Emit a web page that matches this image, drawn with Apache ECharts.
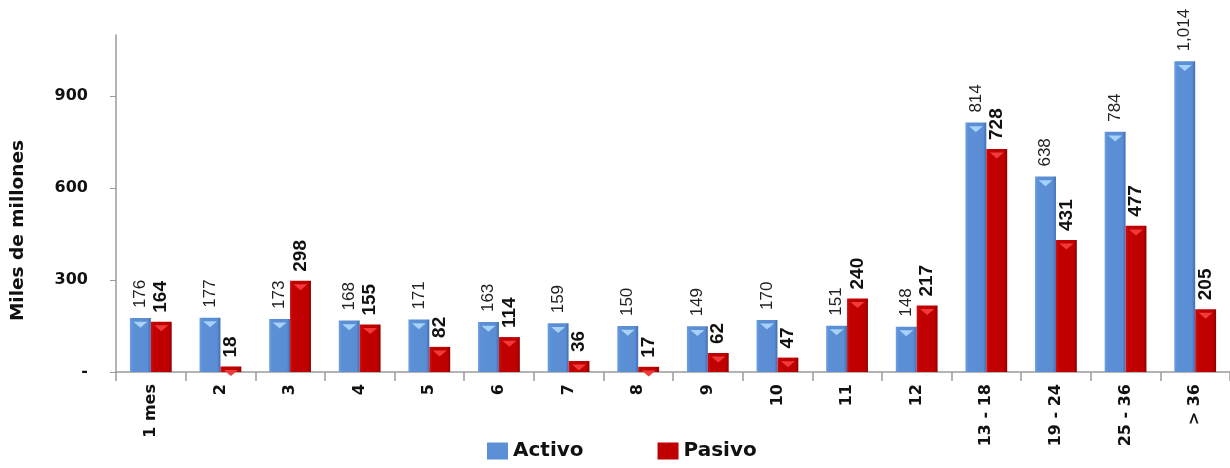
<!DOCTYPE html>
<html><head><meta charset="utf-8">
<script src="https://cdn.jsdelivr.net/npm/echarts@6/dist/echarts.min.js"></script>
<style>html,body{margin:0;padding:0;background:#fff}#c{width:1230px;height:468px}</style>
</head><body><div id="c"></div>
<script>
const categories = ['1 mes','2','3','4','5','6','7','8','9','10','11','12','13 - 18','19 - 24','25 - 36','> 36'];
const activo = [176,177,173,168,171,163,159,150,149,170,151,148,814,638,784,1014];
const pasivo = [164,18,298,155,82,114,36,17,62,47,240,217,728,431,477,205];
const yTicks = [0,300,600,900];

const fmt = v => v.toLocaleString('en-US');
const blueGrad = new echarts.graphic.LinearGradient(0,0,1,0,[
  {offset:0,color:'#6c9fe0'},{offset:0.15,color:'#5b8fd6'},{offset:0.85,color:'#5a8dd4'},{offset:1,color:'#3f6db2'}]);
const redGrad = new echarts.graphic.LinearGradient(0,0,1,0,[
  {offset:0,color:'#d01010'},{offset:0.15,color:'#c20000'},{offset:0.85,color:'#be0000'},{offset:1,color:'#8e0000'}]);

const font = 'DejaVu Sans';
const chart = echarts.init(document.getElementById('c'));
chart.setOption({
  animation:false,
  grid:{left:116,right:-6,top:35,bottom:96,containLabel:false},
  legend:{
    top:436,left:482,itemGap:74,itemWidth:21,itemHeight:17,
    textStyle:{fontFamily:font,fontWeight:'bold',fontSize:20,color:'#111'},
    data:[{name:'Activo',icon:'rect',itemStyle:{color:'#5b8fd6'}},{name:'Pasivo',icon:'rect',itemStyle:{color:'#c00000'}}]
  },
  xAxis:{
    type:'category',data:categories,
    axisLine:{lineStyle:{color:'#9a9a9a',width:1.5}},
    axisTick:{show:true,length:9,lineStyle:{color:'#9a9a9a',width:1.5}},
    axisLabel:{rotate:90,margin:12,fontFamily:font,fontWeight:'bold',fontSize:16,color:'#111'}
  },
  yAxis:{
    type:'value',min:0,max:1100,interval:300,
    splitLine:{show:false},
    axisLine:{show:true,lineStyle:{color:'#9a9a9a',width:1.5}},
    axisTick:{show:true,length:6,lineStyle:{color:'#9a9a9a'}},
    axisLabel:{margin:28,fontFamily:font,fontWeight:'bold',fontSize:16,color:'#111',showMaxLabel:false,
      formatter:v=> yTicks.includes(v) ? (v===0?'-':String(v)) : ''}
  },
  graphic:[{type:'text',left:9,top:140,rotation:Math.PI/2,
    style:{text:'Miles de millones',fontFamily:font,fontWeight:'bold',fontSize:18.5,fill:'#111'}}],
  series:[
    {name:'Activo',type:'bar',data:activo,barGap:'0%',barCategoryGap:'40%',
      itemStyle:{color:blueGrad},
      label:{show:true,position:'top',rotate:90,align:'left',verticalAlign:'middle',distance:10,
        fontFamily:'Liberation Sans',fontSize:17,color:'#222',formatter:p=>fmt(p.value)}},
    {name:'Pasivo',type:'bar',data:pasivo,
      itemStyle:{color:redGrad},
      label:{show:true,position:'top',rotate:90,align:'left',verticalAlign:'middle',distance:9,
        fontFamily:'Liberation Sans',fontWeight:'bold',fontSize:19,color:'#111',formatter:p=>fmt(p.value)}},
    {name:'ActivoTop',type:'pictorialBar',data:activo,barGap:'0%',barCategoryGap:'40%',
      symbol:'triangle',symbolRotate:180,symbolSize:[14,6],symbolPosition:'end',symbolOffset:[0,'60%'],
      itemStyle:{color:'#a6d2f7'},z:3,silent:true},
    {name:'PasivoTop',type:'pictorialBar',data:pasivo,barGap:'0%',barCategoryGap:'40%',
      symbol:'triangle',symbolRotate:180,symbolSize:[14,6],symbolPosition:'end',symbolOffset:[0,'60%'],
      itemStyle:{color:'#f03a3a'},z:3,silent:true}
  ]
});
</script></body></html>
